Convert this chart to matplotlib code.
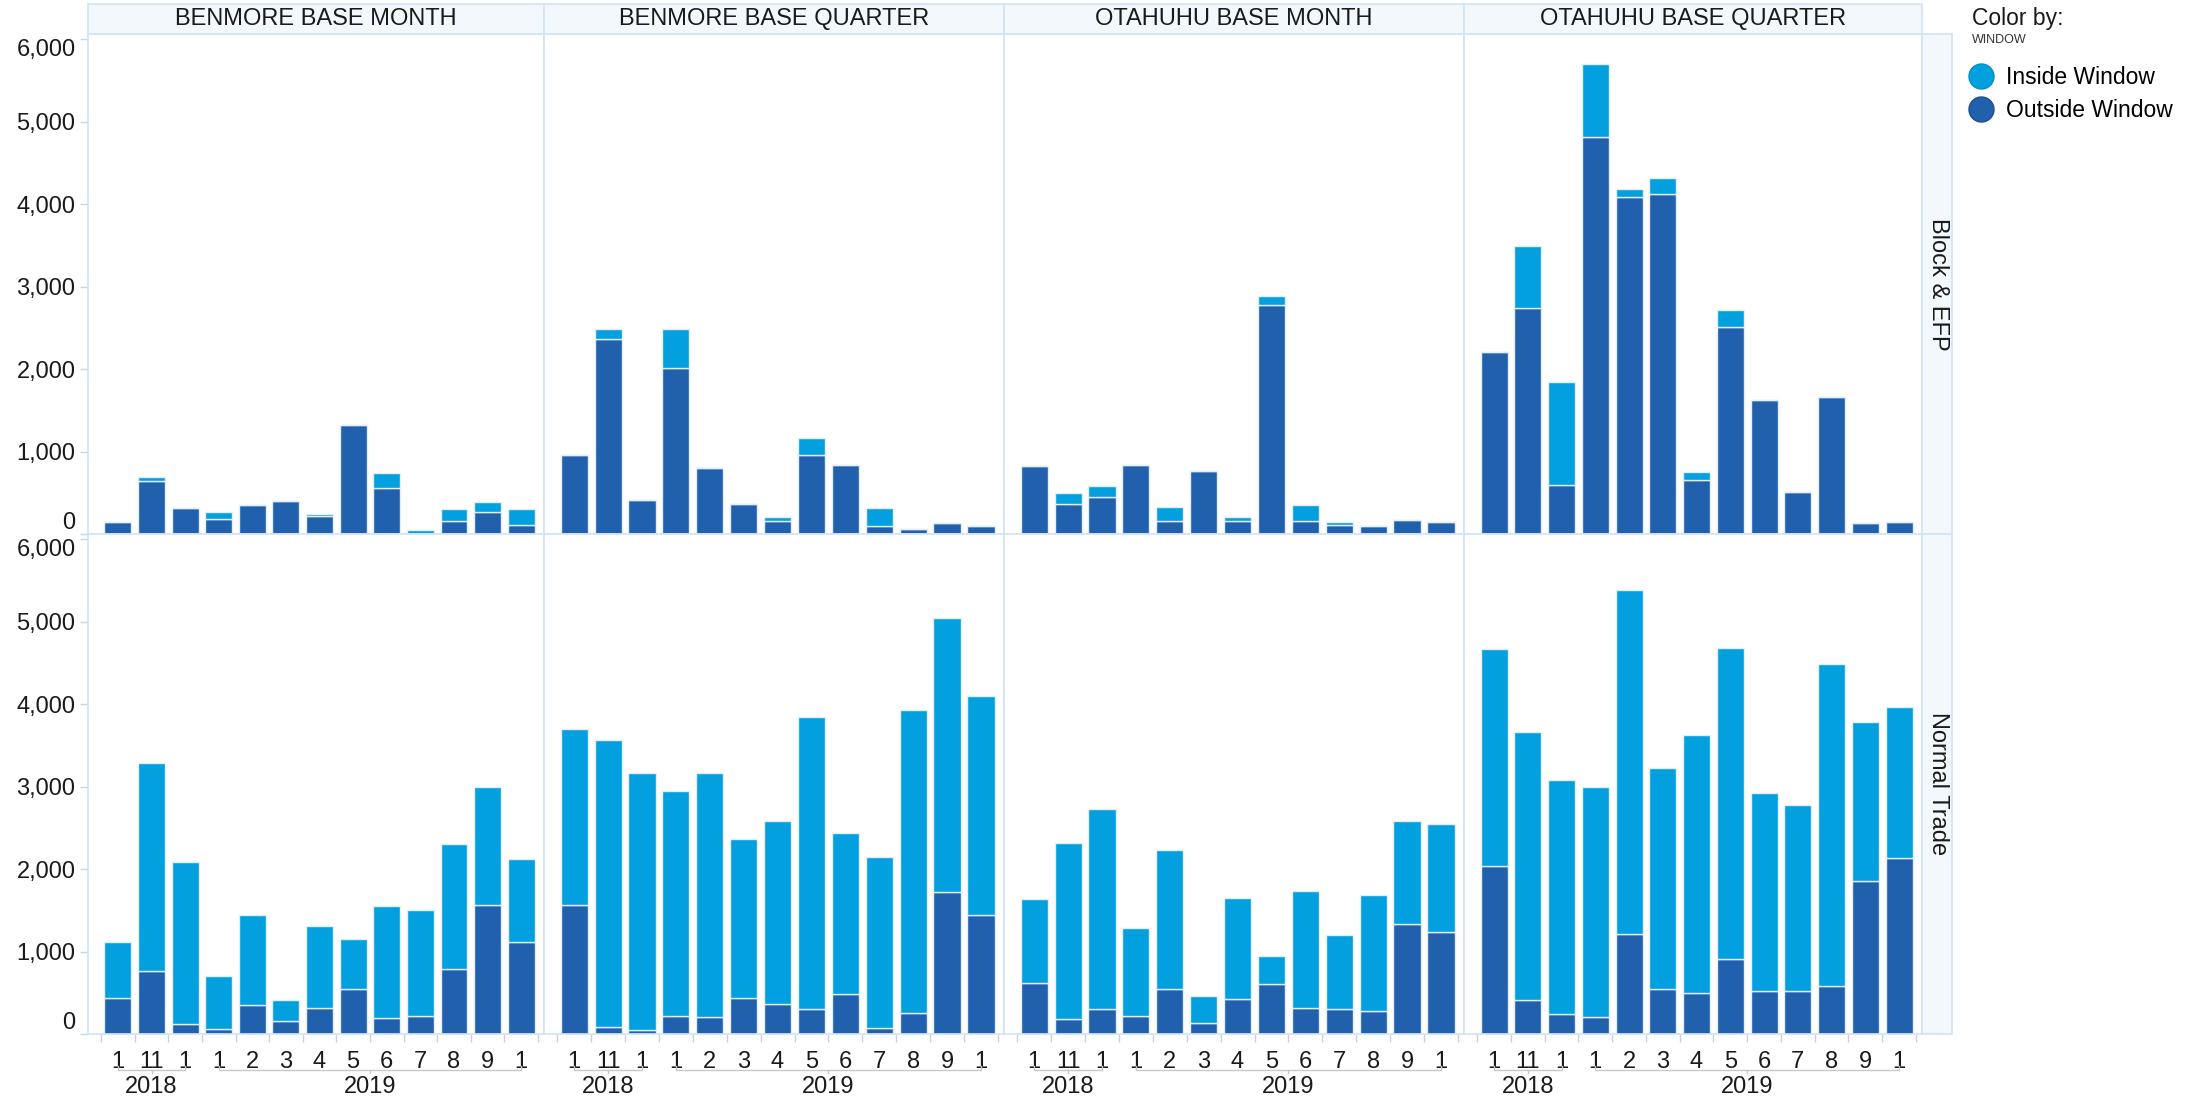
import numpy as np
import matplotlib.pyplot as plt
from matplotlib.patches import Rectangle
from matplotlib.lines import Line2D

plt.rcParams['font.family'] = ['Liberation Sans', 'DejaVu Sans']

# ---- data ----
products = ['BENMORE BASE MONTH', 'BENMORE BASE QUARTER',
            'OTAHUHU BASE MONTH', 'OTAHUHU BASE QUARTER']
trade_types = ['Block & EFP', 'Normal Trade']
months = ['1', '11', '1', '1', '2', '3', '4', '5', '6', '7', '8', '9', '1']
years = ['2018', '2019']
year_sizes = [3, 10]
y_ticks = [0, 1000, 2000, 3000, 4000, 5000, 6000]

# Block & EFP
bm_block_out = [144, 637, 311, 186, 353, 395, 215, 1326, 554, 0, 157, 269, 110]
bm_block_in = [0, 59, 0, 84, 0, 0, 33, 0, 183, 48, 141, 117, 188]
bq_block_out = [959, 2366, 416, 2011, 800, 361, 153, 959, 842, 103, 60, 132, 103]
bq_block_in = [0, 118, 0, 473, 0, 0, 54, 209, 0, 208, 0, 0, 0]
om_block_out = [825, 361, 449, 842, 153, 767, 153, 2776, 153, 110, 103, 165, 144]
om_block_in = [0, 138, 130, 0, 175, 0, 54, 104, 204, 34, 0, 0, 0]
oq_block_out = [2212, 2742, 591, 4818, 4091, 4120, 658, 2513, 1619, 511, 1660, 132, 144]
oq_block_in = [0, 752, 1254, 882, 92, 197, 91, 200, 0, 0, 0, 0, 0]

# Normal Trade
bm_normal_out = [437, 761, 122, 56, 350, 153, 315, 542, 197, 218, 787, 1566, 1110]
bm_normal_in = [678, 2528, 1964, 653, 1089, 262, 992, 604, 1360, 1282, 1518, 1426, 1016]
bq_normal_out = [1562, 88, 53, 220, 202, 440, 365, 308, 484, 70, 251, 1725, 1443]
bq_normal_in = [2138, 3480, 3115, 2732, 2957, 1923, 2218, 3542, 1954, 2073, 3674, 3317, 2658]
om_normal_out = [616, 185, 299, 220, 546, 128, 427, 603, 321, 308, 277, 1338, 1232]
om_normal_in = [1021, 2134, 2429, 1065, 1680, 334, 1227, 343, 1408, 889, 1408, 1245, 1320]
oq_normal_out = [2033, 409, 246, 202, 1210, 541, 497, 911, 519, 519, 585, 1861, 2134]
oq_normal_in = [2640, 3247, 2834, 2794, 4171, 2689, 3129, 3775, 2398, 2253, 3899, 1927, 1830]

outside = [[bm_block_out, bq_block_out, om_block_out, oq_block_out],
           [bm_normal_out, bq_normal_out, om_normal_out, oq_normal_out]]
inside = [[bm_block_in, bq_block_in, om_block_in, oq_block_in],
          [bm_normal_in, bq_normal_in, om_normal_in, oq_normal_in]]

LIGHT = '#02A0DE'
DARK = '#2160AC'
BORDER = '#CFE4F5'
FILL = '#F3F8FD'
TXT = '#1A1A1A'

W, H = 2205, 1099
fig = plt.figure(figsize=(W / 100, H / 100), dpi=100)


def px(x0, y0, x1, y1):
    return [x0 / W, 1 - y1 / H, (x1 - x0) / W, (y1 - y0) / H]


col_edges = [88, 544, 1004, 1464, 1922]
row_edges = [34, 534, 1034]

# column headers
for c, name in enumerate(products):
    x0, x1 = col_edges[c], col_edges[c + 1]
    fig.add_artist(Rectangle((x0 / W, 1 - 34 / H), (x1 - x0) / W, 30 / H,
                             transform=fig.transFigure, facecolor=FILL,
                             edgecolor=BORDER, lw=1.2))
    fig.text((x0 + x1) / 2 / W, 1 - 19 / H, name, ha='center', va='center',
             fontsize=17, color=TXT)

# row strips
for r, name in enumerate(trade_types):
    y0, y1 = row_edges[r], row_edges[r + 1]
    fig.add_artist(Rectangle((1922 / W, 1 - y1 / H), 30 / W, (y1 - y0) / H,
                             transform=fig.transFigure, facecolor=FILL,
                             edgecolor=BORDER, lw=1.2))
    fig.text(1938 / W, 1 - (y0 + y1) / 2 / H, name, ha='center', va='center',
             rotation=270, fontsize=17, color=TXT)

x = np.arange(len(months))
for r in range(2):
    for c in range(4):
        ax = fig.add_axes(px(col_edges[c], row_edges[r], col_edges[c + 1], row_edges[r + 1]))
        ax.bar(x, outside[r][c], width=0.8, color=DARK, edgecolor='#E4EEF9', linewidth=1)
        ax.bar(x, inside[r][c], width=0.8, bottom=outside[r][c], color=LIGHT,
               edgecolor='#E4EEF9', linewidth=1)
        ax.set_xlim(-0.89, 12.68)
        ax.set_ylim(0, 6063)
        for s in ax.spines.values():
            s.set_color(BORDER)
            s.set_linewidth(1.2)
        if c == 0:
            ax.set_yticks(y_ticks)
            ax.set_yticklabels([f'{v:,}' for v in y_ticks])
            ax.tick_params(axis='y', length=6, width=1, color='#C8D8E6', pad=3,
                           labelsize=17, labelcolor=TXT)
            labels = ax.get_yticklabels()
            labels[0].set_va('bottom')
            labels[-1].set_va('top')
        else:
            ax.set_yticks([])
        if r == 1:
            ax.set_xticks(x)
            ax.set_xticklabels(months)
            ax.set_xticks(np.arange(-0.5, len(months)), minor=True)
            ax.tick_params(axis='x', which='major', length=0, pad=12,
                           labelsize=17, labelcolor=TXT)
            ax.tick_params(axis='x', which='minor', length=6, width=1, color='#D0D0D0')
            tr = ax.get_xaxis_transform()
            start = 0
            for yr, n in zip(years, year_sizes):
                a, b = start, start + n - 1
                ax.plot([a, a, b, b], [-0.064, -0.072, -0.072, -0.064], transform=tr,
                        color='#C8C8C8', lw=1, clip_on=False)
                ax.plot([(a + b) / 2] * 2, [-0.072, -0.078], transform=tr,
                        color='#C8C8C8', lw=1, clip_on=False)
                ax.text((a + b) / 2, -0.106, yr, transform=tr, ha='center', va='center',
                        fontsize=17, color=TXT)
                start += n
        else:
            ax.set_xticks([])

# legend
fig.text(1972 / W, 1 - 19 / H, 'Color by:', ha='left', va='center', fontsize=16.5, color=TXT)
fig.text(1972 / W, 1 - 40 / H, 'WINDOW', ha='left', va='center', fontsize=9, color='#333333')
handles = [Line2D([], [], marker='o', linestyle='', markersize=18,
                  markerfacecolor=LIGHT, markeredgecolor='#0090CC'),
           Line2D([], [], marker='o', linestyle='', markersize=18,
                  markerfacecolor=DARK, markeredgecolor='#1B4F92')]
fig.legend(handles, ['Inside Window', 'Outside Window'], loc='upper left',
           bbox_to_anchor=(1970 / W, 1 - 66 / H), frameon=False, fontsize=16.5,
           handlelength=1.0, handletextpad=0.55, labelspacing=0.45, borderpad=0,
           borderaxespad=0)

fig.savefig('out.png', dpi=100)
